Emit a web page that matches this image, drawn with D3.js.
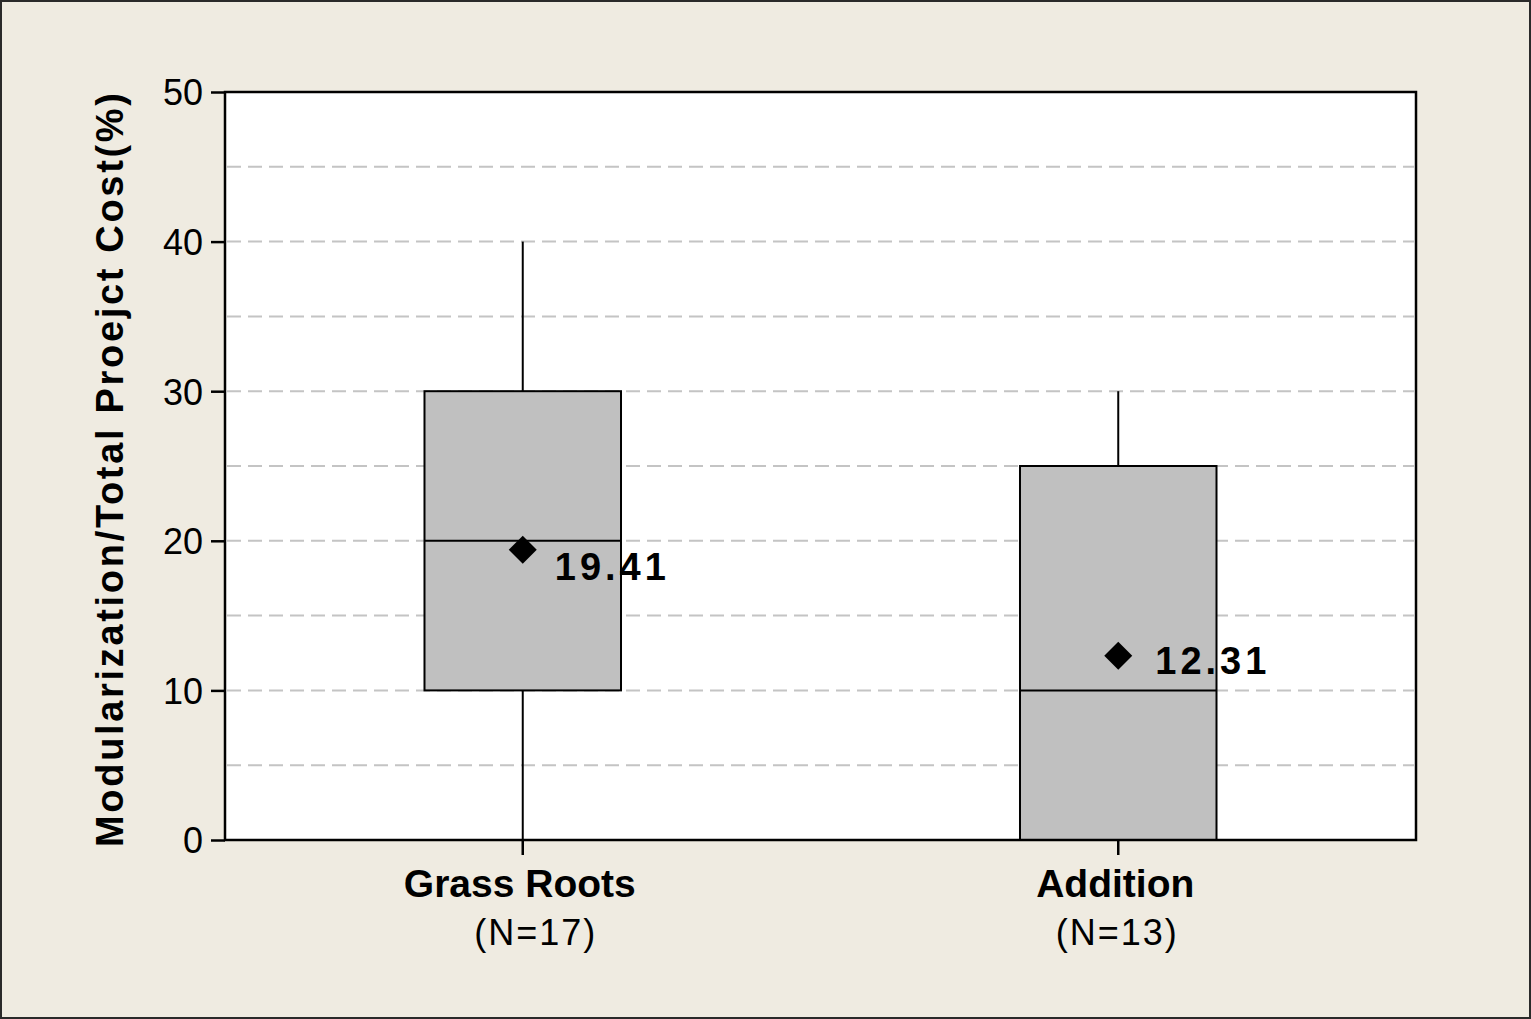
<!DOCTYPE html>
<html><head><meta charset="utf-8">
<script src="https://cdn.jsdelivr.net/npm/d3@7"></script>
<style>
html,body{margin:0;padding:0;background:#efebe1;}
svg{display:block;}
text{font-family:"Liberation Sans",Arial,sans-serif;}
</style></head>
<body>
<script>
const categories = ["Grass Roots", "Addition"];
const nLabels = ["(N=17)", "(N=13)"];
const whiskerLow = [0, 0];
const q1 = [10, 0];
const median = [20, 10];
const q3 = [30, 25];
const whiskerHigh = [40, 30];
const means = [19.41, 12.31];
const yTicks = [0, 10, 20, 30, 40, 50];
const gridValues = [5, 10, 15, 20, 25, 30, 35, 40, 45];

const W = 1531, H = 1019;
const m = {left: 225, right: 1416, top: 92, bottom: 840};

const svg = d3.select("body").append("svg").attr("width", W).attr("height", H);

svg.append("rect").attr("x", 1).attr("y", 1).attr("width", W - 2).attr("height", H - 2)
  .attr("fill", "#efebe1").attr("stroke", "#2a2a2a").attr("stroke-width", 2);

const x = d3.scaleBand().domain(categories).range([m.left, m.right]);
const y = d3.scaleLinear().domain([0, 50]).range([m.bottom, m.top]);

svg.append("rect").attr("x", m.left).attr("y", m.top)
  .attr("width", m.right - m.left).attr("height", m.bottom - m.top).attr("fill", "#fff");

// grid
svg.append("g").selectAll("line").data(gridValues).join("line")
  .attr("x1", m.left + 2).attr("x2", m.right - 2)
  .attr("y1", d => y(d)).attr("y2", d => y(d))
  .attr("stroke", "#c4c4c4").attr("stroke-width", 2).attr("stroke-dasharray", "14,7");

const boxW = x.bandwidth() * 0.33;
const labelShift = [[32, 30], [37, 18]];
const g = svg.append("g");
categories.forEach((c, i) => {
  const cx = x(c) + x.bandwidth() / 2;
  g.append("line").attr("x1", cx).attr("x2", cx).attr("y1", y(whiskerHigh[i])).attr("y2", y(q3[i]))
    .attr("stroke", "#000").attr("stroke-width", 2);
  g.append("line").attr("x1", cx).attr("x2", cx).attr("y1", y(q1[i])).attr("y2", y(whiskerLow[i]))
    .attr("stroke", "#000").attr("stroke-width", 2);
  g.append("rect").attr("x", cx - boxW / 2).attr("y", y(q3[i]))
    .attr("width", boxW).attr("height", y(q1[i]) - y(q3[i]))
    .attr("fill", "#c0c0c0").attr("stroke", "#000").attr("stroke-width", 2);
  g.append("line").attr("x1", cx - boxW / 2).attr("x2", cx + boxW / 2)
    .attr("y1", y(median[i])).attr("y2", y(median[i]))
    .attr("stroke", "#000").attr("stroke-width", 2);
  const my = y(means[i]);
  const r = 14;
  g.append("path").attr("d", `M${cx},${my - r}L${cx + r},${my}L${cx},${my + r}L${cx - r},${my}Z`)
    .attr("fill", "#000");
  g.append("text").attr("x", cx + labelShift[i][0]).attr("y", my + labelShift[i][1])
    .attr("font-size", 38).attr("font-weight", "bold").attr("letter-spacing", 4)
    .text(means[i].toFixed(2));
});

// plot frame
svg.append("rect").attr("x", m.left).attr("y", m.top)
  .attr("width", m.right - m.left).attr("height", m.bottom - m.top)
  .attr("fill", "none").attr("stroke", "#000").attr("stroke-width", 2.5);

// y axis
const ya = svg.append("g").attr("transform", `translate(${m.left},0)`)
  .call(d3.axisLeft(y).tickValues(yTicks).tickSize(14).tickPadding(8));
ya.select(".domain").remove();
ya.selectAll(".tick line").attr("stroke", "#000").attr("stroke-width", 2.5);
ya.selectAll(".tick text").attr("font-size", 36).attr("fill", "#000")
  .attr("font-family", "'Liberation Sans',Arial,sans-serif").attr("dy", "0.36em");

// x axis
const xa = svg.append("g").attr("transform", `translate(0,${m.bottom})`)
  .call(d3.axisBottom(x).tickSize(15).tickFormat(""));
xa.select(".domain").remove();
xa.selectAll(".tick line").attr("stroke", "#000").attr("stroke-width", 2.5);
const nShift = [13, -1];
categories.forEach((c, i) => {
  const cx = x(c) + x.bandwidth() / 2;
  svg.append("text").attr("x", cx - 3).attr("y", 897).attr("text-anchor", "middle")
    .attr("font-size", 39).attr("font-weight", "bold").text(c);
  svg.append("text").attr("x", cx + nShift[i]).attr("y", 945).attr("text-anchor", "middle")
    .attr("font-size", 36).attr("letter-spacing", 2).text(nLabels[i]);
});

// y title
svg.append("text").attr("transform", `translate(123,470) rotate(-90)`)
  .attr("text-anchor", "middle").attr("font-size", 38).attr("font-weight", "bold")
  .attr("textLength", 754).attr("lengthAdjust", "spacing")
  .text("Modularization/Total Proejct Cost(%)");
</script>
</body></html>
